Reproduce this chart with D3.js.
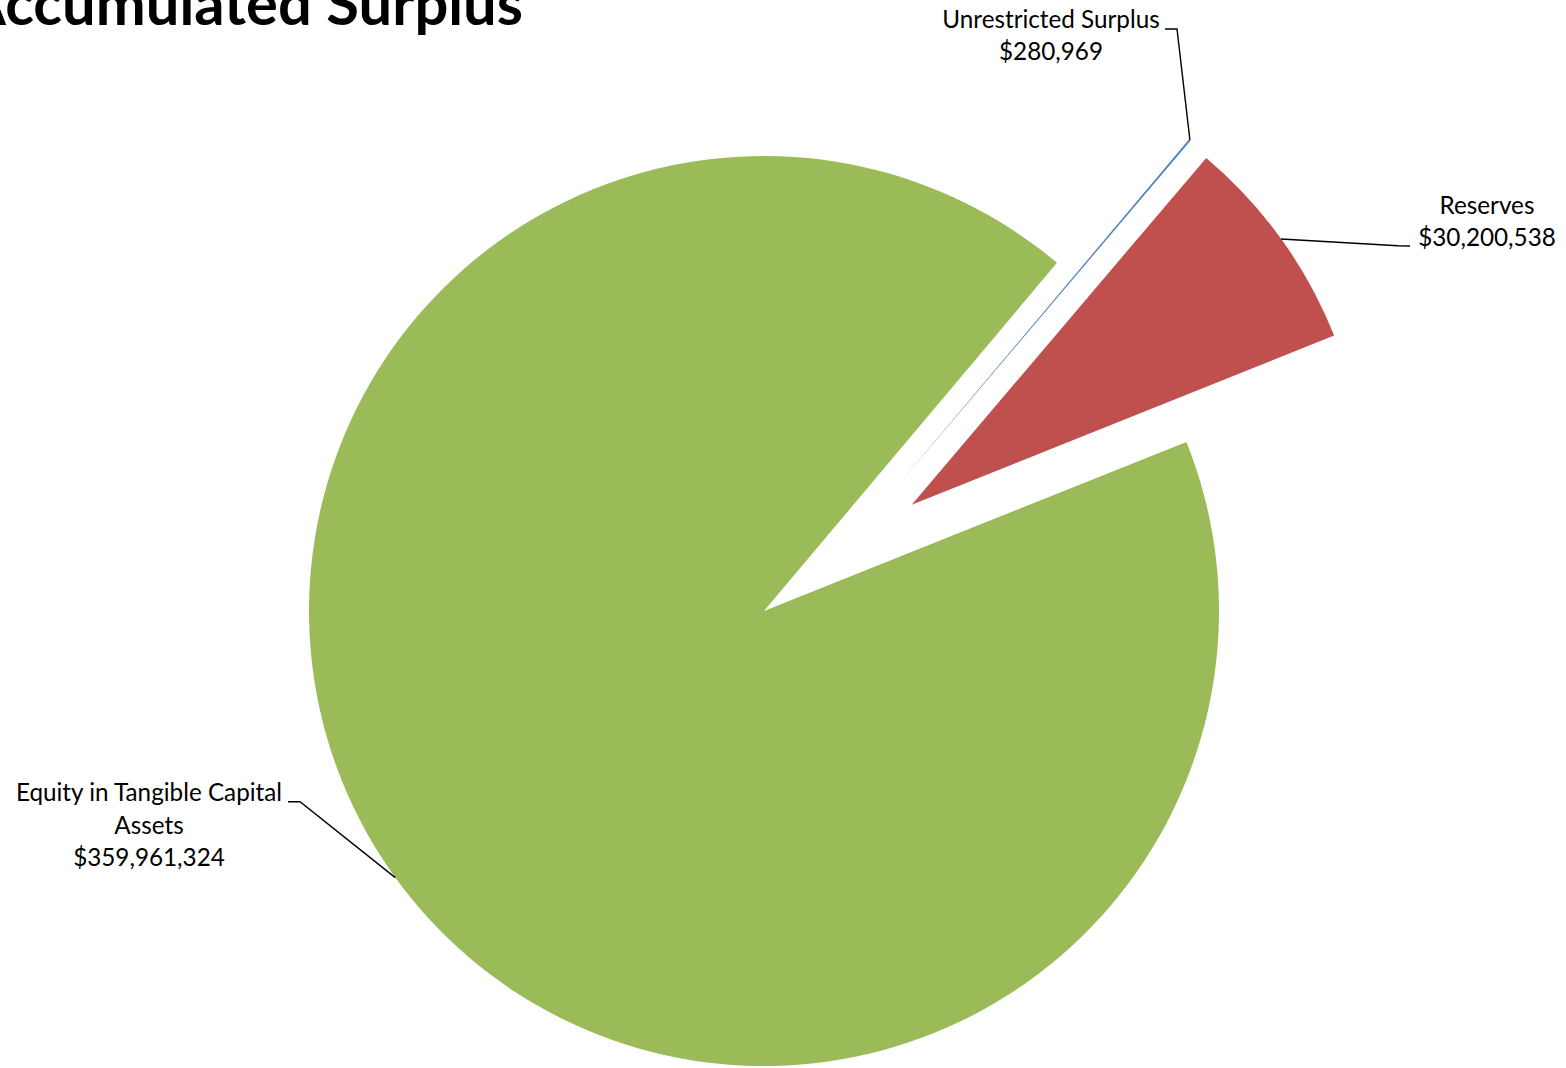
<!DOCTYPE html>
<html><head><meta charset="utf-8">
<script src="https://cdn.jsdelivr.net/npm/d3@7"></script>
<style>html,body{margin:0;padding:0;background:#fff;overflow:hidden}svg{display:block}</style>
</head><body>
<svg id="chart" width="1566" height="1068"></svg>
<script>
// ---- data ----
const title = "Accumulated Surplus";
const categories = ["Unrestricted Surplus", "Reserves", "Equity in Tangible Capital Assets"];
const values = [280969, 30200538, 359961324];
const nameLines = [["Unrestricted Surplus"], ["Reserves"], ["Equity in Tangible Capital", "Assets"]];
const colors = ["#4F81BD", "#C0504D", "#9BBB59"];

// ---- layout ----
const W = 1566, H = 1068;
const cx = 764, cy = 611, R = 455;
const deg = Math.PI / 180;
const startAngle = 40.08 * deg;
const explode = [{dist: 181, dir: 46.9}, {dist: 182, dir: null}, {dist: 0, dir: null}];
const labelPos = [
  {x: 1051, y: 27.5, elbow: [[1177, 29], [1165, 29]]},
  {x: 1487, y: 213.5, elbow: [[1398, 245.7], [1410, 246]]},
  {x: 149, y: 801, elbow: [[300, 801.7], [288, 801.7]]}
];
const lineGap = 32.6;
const fontFam = "Lato, 'Open Sans', 'DejaVu Sans', sans-serif";

const svg = d3.select("#chart");
const fmt = d3.format("$,");

const pie = d3.pie().sort(null).startAngle(startAngle).endAngle(startAngle + 2 * Math.PI);
const arcs = pie(values);
const arc = d3.arc().innerRadius(0).outerRadius(R);
const edgeArc = d3.arc().innerRadius(R).outerRadius(R);

function offsetOf(d, i) {
  const e = explode[i];
  const a = (e.dir === null ? (d.startAngle + d.endAngle) / 2 : e.dir * deg);
  return [e.dist * Math.sin(a), -e.dist * Math.cos(a)];
}

const g = svg.append("g").attr("transform", `translate(${cx},${cy})`);
g.selectAll("path.slice").data(arcs).join("path")
  .attr("class", "slice")
  .attr("d", arc)
  .attr("fill", (d, i) => colors[i])
  .attr("transform", (d, i) => { const o = offsetOf(d, i); return `translate(${o[0]},${o[1]})`; });

// font sizing (Calibri substitute): fit reference widths
function measure(txt, size, weight) {
  const t = svg.append("text").attr("font-family", fontFam).attr("font-size", size)
    .attr("font-weight", weight).text(txt);
  const w = t.node().getComputedTextLength();
  t.remove();
  return w;
}
const labelSize = 1.035 * 100 * 133 / measure(fmt(values[1]), 100, 400);
const titleSize = 100 * 518 / measure(title.slice(1), 100, 700);

// leader lines
arcs.forEach((d, i) => {
  const o = offsetOf(d, i);
  const c = edgeArc.centroid(d);
  const p0 = [cx + o[0] + c[0], cy + o[1] + c[1]];
  const pts = [p0, ...labelPos[i].elbow];
  svg.append("path")
    .attr("d", d3.line()(pts))
    .attr("fill", "none").attr("stroke", "#000").attr("stroke-width", 1.4);
});

// labels
arcs.forEach((d, i) => {
  const lines = [...nameLines[i], fmt(values[i])];
  const t = svg.append("text")
    .attr("font-family", fontFam).attr("font-size", labelSize)
    .attr("fill", "#000").attr("text-anchor", "middle");
  lines.forEach((s, k) => {
    t.append("tspan").attr("x", labelPos[i].x).attr("y", labelPos[i].y + k * lineGap).text(s);
  });
});

// title (clipped at the top-left edge, as in the reference)
svg.append("text")
  .attr("x", 523).attr("y", 24.5)
  .attr("text-anchor", "end")
  .attr("font-family", fontFam).attr("font-weight", 700)
  .attr("font-size", titleSize)
  .attr("fill", "#000")
  .text(title);
</script>
</body></html>
